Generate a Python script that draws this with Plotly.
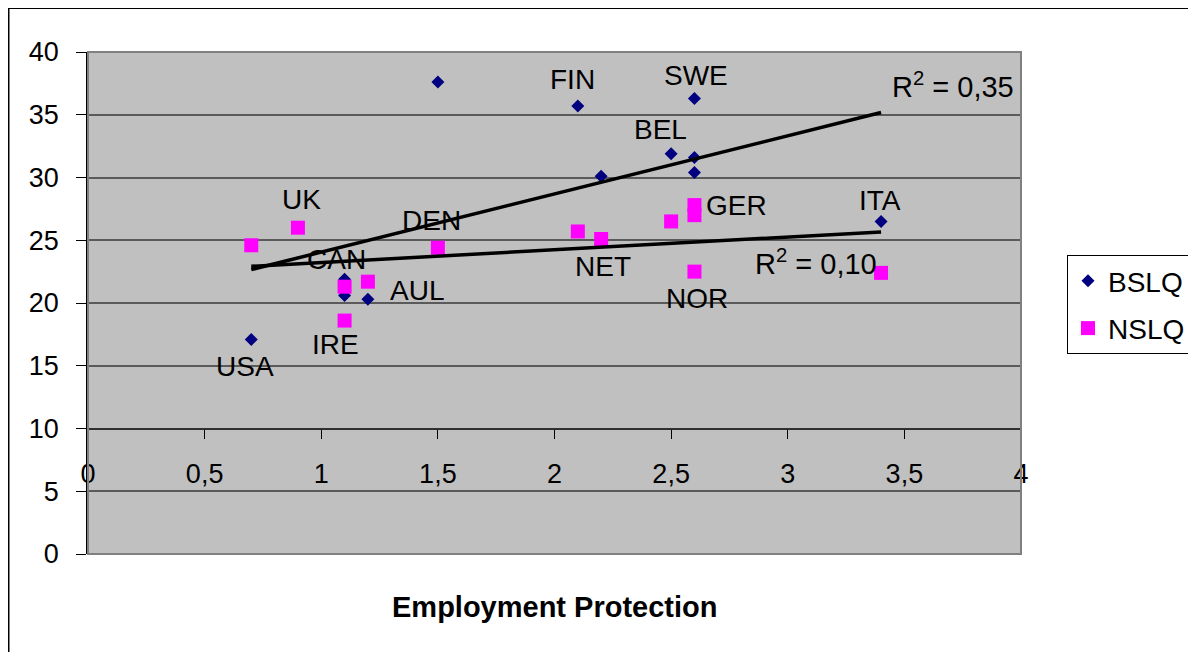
import numpy as np
import plotly.graph_objects as go

# ---------------- data ----------------
countries = ["USA", "UK", "CAN", "IRE", "AUL", "DEN", "FIN", "NET", "BEL", "SWE", "GER", "NOR", "ITA"]
employment_protection = [0.7, 0.9, 1.1, 1.1, 1.2, 1.5, 2.1, 2.2, 2.5, 2.6, 2.6, 2.6, 3.4]
bslq = [17.1, 26.0, 21.9, 20.6, 20.3, 37.6, 35.7, 30.1, 31.9, 36.3, 31.6, 30.4, 26.5]
nslq = [24.6, 26.0, 21.3, 18.6, 21.7, 24.4, 25.7, 25.1, 26.5, 27.8, 27.0, 22.5, 22.4]
x_tick_vals = [0, 0.5, 1, 1.5, 2, 2.5, 3, 3.5, 4]
x_tick_text = ["0", "0,5", "1", "1,5", "2", "2,5", "3", "3,5", "4"]
y_tick_vals = [0, 5, 10, 15, 20, 25, 30, 35, 40]
r2_text = ["0,35", "0,10"]

# ---------------- layout constants ----------------
W, H = 1196, 652
OFF = 8  # page body margin: figure origin sits at (8, 8) on the page
ML, MT = 88 - OFF, 52 - OFF
PW, PH = 933, 502
MR = W - ML - PW
MB = H - MT - PH
FONT = "Liberation Sans, Arial, sans-serif"


def px_x(p):  # page pixel -> paper x
    return (p - OFF - ML) / PW


def px_y(p):  # page pixel -> paper y
    return (MT + PH - (p - OFF)) / PH


fig = go.Figure()

fig.add_trace(go.Scatter(
    x=employment_protection, y=bslq, mode="markers", name="BSLQ",
    legendgroup="a",
    marker=dict(symbol="diamond", size=10, color="#000080", line=dict(width=0)),
))
fig.add_trace(go.Scatter(
    x=employment_protection, y=nslq, mode="markers", name="NSLQ",
    legendgroup="b",
    marker=dict(symbol="square", size=14, color="#FF00FF", line=dict(width=0)),
))

# linear trendlines (least squares)
xs = np.array(employment_protection)
trend_ends = []
for ys in (bslq, nslq):
    k, b = np.polyfit(xs, np.array(ys), 1)
    xl = np.array([xs.min(), xs.max()])
    trend_ends.append((xl[-1], k * xl[-1] + b))
    fig.add_trace(go.Scatter(
        x=xl, y=k * xl + b, mode="lines", showlegend=False,
        line=dict(color="black", width=3.5), hoverinfo="skip",
    ))

# country labels: (country index, series, xshift, yshift)
label_specs = [
    (0, "b", -6, -27), (1, "n", 4, 28), (2, "b", -8, 20), (3, "n", -9, -24),
    (4, "b", 49, 9), (5, "n", -6, 27), (6, "b", -5, 26), (7, "n", 2, -28),
    (8, "b", -11, 24), (9, "b", 2, 23), (10, "n", 42, 10), (11, "n", 3, -27),
    (12, "b", -1, 21),
]
annotations = []
for i, s, dx, dy in label_specs:
    yv = bslq[i] if s == "b" else nslq[i]
    annotations.append(dict(
        x=employment_protection[i], y=yv, text=countries[i], showarrow=False,
        xshift=dx, yshift=dy, font=dict(family=FONT, size=28, color="black"),
    ))

# R^2 labels near trendline ends
(ex1, ey1), (ex2, ey2) = trend_ends
annotations.append(dict(
    x=ex1, y=ey1, text="R<sup>2</sup> = " + r2_text[0], showarrow=False,
    xanchor="left", xshift=9, yshift=28, font=dict(family=FONT, size=29, color="black"),
))
annotations.append(dict(
    x=ex2, y=ey2, text="R<sup>2</sup> = " + r2_text[1], showarrow=False,
    xanchor="right", xshift=-2, yshift=-30, font=dict(family=FONT, size=29, color="black"),
))

# x-axis title
annotations.append(dict(
    xref="paper", yref="paper", x=0.5, y=px_y(607), text="<b>Employment Protection</b>",
    showarrow=False, yanchor="middle", font=dict(family=FONT, size=29, color="black"),
))

shapes = [
    # plot area border
    dict(type="rect", xref="paper", yref="paper", x0=0, x1=1, y0=0, y1=1,
         line=dict(color="#808080", width=2), layer="above"),
    # outer chart frame
    dict(type="rect", xref="paper", yref="paper", x0=px_x(8.5), x1=px_x(1230),
         y0=px_y(700), y1=px_y(8), line=dict(color="black", width=2), layer="above"),
]

fig.update_layout(
    width=W, height=H,
    margin=dict(l=ML, r=MR, t=MT, b=MB, autoexpand=False),
    paper_bgcolor="white", plot_bgcolor="#C0C0C0",
    font=dict(family=FONT, size=27, color="black"),
    showlegend=True,
    legend=dict(
        x=px_x(1067), y=px_y(255), xanchor="left", yanchor="top",
        bgcolor="white", bordercolor="black", borderwidth=1,
        font=dict(family=FONT, size=28, color="black"),
        traceorder="grouped", tracegroupgap=8,
    ),
    xaxis=dict(
        range=[0, 4], tickvals=x_tick_vals, ticktext=x_tick_text,
        anchor="free", position=0.25,
        showgrid=False, zeroline=False,
        showline=True, linecolor="#303030", linewidth=2,
        ticks="outside", ticklen=9, tickcolor="black", tickwidth=1,
        ticklabelstandoff=12,
        tickfont=dict(family=FONT, size=27, color="black"),
    ),
    yaxis=dict(
        range=[0, 40], tickvals=y_tick_vals,
        showgrid=True, gridcolor="#5a5a5a", gridwidth=2,
        zeroline=False,
        showline=True, linecolor="black", linewidth=1.5,
        ticks="outside", ticklen=10, tickcolor="black", tickwidth=1,
        ticklabelstandoff=12,
        tickfont=dict(family=FONT, size=27, color="black"),
    ),
    annotations=annotations,
    shapes=shapes,
)

fig.write_html("out.html")
